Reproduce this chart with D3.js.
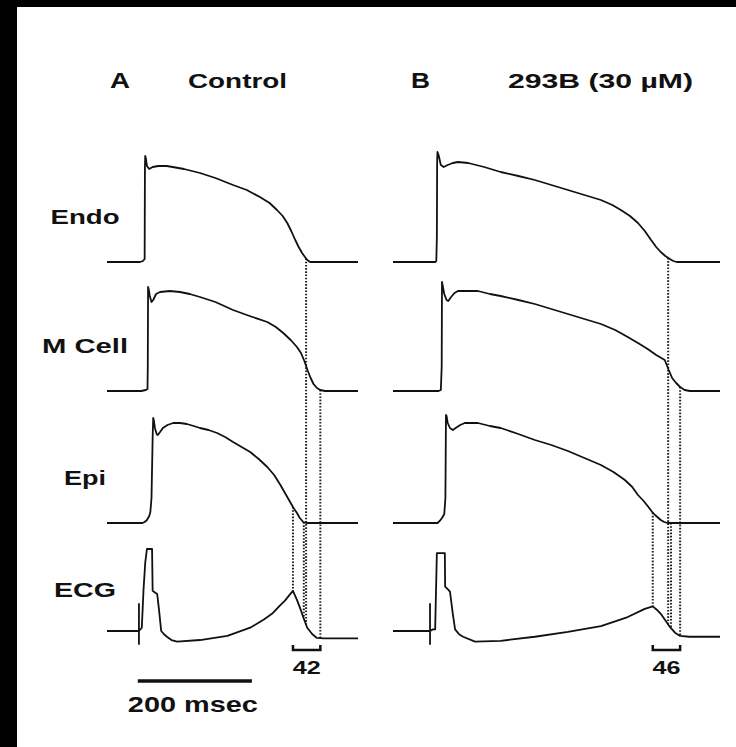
<!DOCTYPE html>
<html>
<head>
<meta charset="utf-8">
<script src="https://cdn.jsdelivr.net/npm/d3@7"></script>
<style>
  body { margin: 0; background: #000; }
  text { font-family: "Liberation Sans", Arial, sans-serif; font-weight: bold; fill: #111; }
</style>
</head>
<body>
<script>
// rows and panels
var rowNames = ["Endo", "M Cell", "Epi", "ECG"]
var panelLetters = ["A", "B"]
var conditions = ["Control", "293B (30 \u00b5M)"]

// action potentials: [time ms, membrane potential mV]
var endoA = [[0,-85],[58,-85],[63,-84],[66,-82],[66.5,10],[67,21],[68,19],[70,11],[74,8],[80,10],[90,11],[105,11],[135,8],[163,4],[190,-1],[221,-8],[245,-13],[268,-20],[285,-26],[298,-33],[308,-39],[316,-46],[323,-54],[330,-63],[336,-70],[342,-76],[347,-80],[351,-83],[356,-85],[440,-85]]
var mcellA = [[0,-85],[60,-85],[68,-84],[71,-83],[71.5,-60],[72,19],[73,17],[75,10],[78,4],[81,6],[86,12],[93,14],[110,15],[128,14],[145,12],[163,9],[190,4],[221,-4],[250,-10],[281,-16],[296,-21],[309,-27],[322,-34],[333,-41],[340,-47],[346,-55],[352,-65],[357,-72],[362,-78],[368,-82],[374,-84],[382,-85],[440,-85]]
var epiA = [[0,-85],[62,-85],[66,-84],[70,-82],[74,-78],[76,-74],[78,-60],[80,0],[81,20],[82,18],[84,10],[87,4],[89,3],[93,6],[98,10],[106,13],[116,15],[128,15],[140,14],[152,12],[163,10],[178,8],[193,5],[207,1],[221,-4],[236,-9],[251,-14],[266,-21],[281,-29],[293,-37],[304,-47],[313,-56],[321,-64],[327,-70],[333,-75],[338,-80],[344,-84],[350,-85],[440,-85]]
var endoB = [[0,-85],[74,-85],[76,-84],[77,-60],[77.5,15],[78,25],[80,22],[84,12],[89,10],[96,12],[105,14],[114,15],[132,14],[160,10],[189,5],[220,1],[249,-3],[278,-8],[307,-13],[336,-18],[365,-23],[385,-28],[400,-33],[416,-39],[430,-46],[442,-54],[453,-63],[462,-70],[470,-75],[478,-79],[486,-82],[492,-84],[498,-85],[574,-85]]
var mcellB = [[0,-85],[80,-85],[84,-84],[85.5,-60],[86,24],[87,21],[90,12],[94,6],[97,5],[102,9],[108,13],[114,15],[130,15],[149,15],[170,12],[189,10],[220,6],[249,2],[278,-3],[307,-8],[336,-13],[365,-18],[390,-24],[412,-31],[430,-37],[447,-43],[462,-49],[477,-54],[484,-64],[490,-72],[497,-77],[504,-81],[512,-84],[521,-85],[574,-85]]
var epiB = [[0,-85],[78,-85],[82,-83],[86,-80],[90,-76],[92,-60],[93,23],[94,22],[96,15],[100,10],[105,8],[110,10],[118,13],[126,15],[149,15],[170,12],[189,10],[220,4],[249,-2],[278,-7],[307,-13],[336,-20],[365,-27],[387,-34],[407,-42],[420,-49],[430,-57],[440,-63],[447,-68],[455,-74],[460,-77],[466,-80],[470,-82],[476,-84],[482,-85],[574,-85]]

// transmural ECG: [time ms, relative amplitude]
var ecgA = [[0,0],[56,0],[56,0.33],[56,-0.16],[56,0],[61,0.04],[64,0.5],[67,0.83],[70,1.0],[79,1.0],[80,0.49],[84,0.47],[88,0.45],[91,0.27],[95,0],[100,-0.04],[105,-0.07],[113,-0.11],[123,-0.13],[163,-0.11],[211,-0.06],[251,0.04],[275,0.14],[291,0.22],[303,0.31],[312,0.37],[320,0.44],[326,0.49],[333,0.38],[339,0.27],[345,0.15],[351,0.04],[360,-0.04],[368,-0.085],[380,-0.09],[440,-0.09]]
var ecgB = [[0,0],[65,0],[65,0.33],[65,-0.16],[65,0],[70,0.02],[74,0.02],[77,0.95],[91,0.95],[91.5,0.54],[96,0.51],[100,0.48],[105,0.21],[109,0.02],[116,-0.04],[123,-0.07],[144,-0.13],[189,-0.12],[249,-0.07],[307,-0.01],[365,0.06],[412,0.17],[442,0.27],[456,0.30],[463,0.26],[470,0.21],[478,0.13],[486,0.05],[495,-0.02],[504,-0.06],[520,-0.07],[574,-0.07]]

// dotted markers: row the line starts from and time (ms)
var markersA = [{row:"Epi", t:326},{row:"Endo", t:349},{row:"Epi", t:345},{row:"M Cell", t:374}]
var markersB = [{row:"Epi", t:456},{row:"Endo", t:483},{row:"Epi", t:488},{row:"M Cell", t:504}]
var dispersion = ["42", "46"]
var scaleBarMs = 200

var W = 736, H = 747
var svg = d3.select("body").append("svg").attr("width", W).attr("height", H)
svg.append("rect").attr("width", W).attr("height", H).attr("fill", "#000")
svg.append("rect").attr("x", 17).attr("y", 7).attr("width", W - 17).attr("height", H - 7).attr("fill", "#fff")

var rowY = d3.scaleOrdinal().domain(rowNames).range([262, 391, 523, 631])
var vScale = d3.scaleLinear().domain([-85, 25]).range([0, -110])
var ecgScale = d3.scaleLinear().domain([0, 1]).range([0, -82])
function yOf(row, v){
  return rowY(row) + (row === "ECG" ? ecgScale(v) : vScale(v))
}
function valueAt(trace, t){
  for (var i = 1; i < trace.length; i++){
    if (trace[i][0] >= t){
      var a = trace[i-1], b = trace[i]
      if (b[0] === a[0]) return b[1]
      return a[1] + (b[1] - a[1]) * (t - a[0]) / (b[0] - a[0])
    }
  }
  return trace[trace.length-1][1]
}

var panels = [
  {letter: panelLetters[0], title: conditions[0], x: d3.scaleLinear().domain([0, 440]).range([107, 358]),
   traces: {"Endo": endoA, "M Cell": mcellA, "Epi": epiA, "ECG": ecgA}, markers: markersA, label: dispersion[0],
   letterX: 110, letterW: 20, titleX: 188, titleW: 99},
  {letter: panelLetters[1], title: conditions[1], x: d3.scaleLinear().domain([0, 574]).range([393, 720]),
   traces: {"Endo": endoB, "M Cell": mcellB, "Epi": epiB, "ECG": ecgB}, markers: markersB, label: dispersion[1],
   letterX: 411, letterW: 19, titleX: 508, titleW: 185}
]

function addText(x, y, str, size, width, anchor){
  svg.append("text")
    .attr("x", x).attr("y", y)
    .attr("font-size", size)
    .attr("text-anchor", anchor || "start")
    .attr("textLength", width)
    .attr("lengthAdjust", "spacingAndGlyphs")
    .text(str)
}

// row labels
var labelW = {"Endo": 69, "M Cell": 86, "Epi": 42, "ECG": 62}
rowNames.forEach(function(r){
  addText(85, rowY(r) - (r === "ECG" ? 34 : 38), r, 21, labelW[r], "middle")
})

panels.forEach(function(p){
  addText(p.letterX, 88, p.letter, 22, p.letterW)
  addText(p.titleX, 88, p.title, 21, p.titleW)

  // dotted lines down to ECG
  svg.append("g").selectAll("line")
    .data(p.markers)
    .enter()
    .append("line")
    .attr("x1", function(d){ return p.x(d.t) })
    .attr("x2", function(d){ return p.x(d.t) })
    .attr("y1", function(d){ return yOf(d.row, valueAt(p.traces[d.row], d.t)) })
    .attr("y2", function(d){ return yOf("ECG", valueAt(p.traces["ECG"], d.t)) })
    .attr("stroke", "#222")
    .attr("stroke-width", 2)
    .attr("stroke-dasharray", "1.6,1.6")

  rowNames.forEach(function(r){
    var line = d3.line()
      .x(function(d){ return p.x(d[0]) })
      .y(function(d){ return yOf(r, d[1]) })
    svg.append("path")
      .datum(p.traces[r])
      .attr("d", line)
      .attr("fill", "none")
      .attr("stroke", "#111")
      .attr("stroke-width", 1.8)
      .attr("stroke-linejoin", "round")
  })

  // dispersion bracket
  var t0 = d3.min(p.markers, function(d){ return d.t })
  var t1 = d3.max(p.markers, function(d){ return d.t })
  var by = rowY("ECG") + 19
  svg.append("path")
    .attr("d", "M" + p.x(t0) + "," + (by - 5) + "V" + by + "H" + p.x(t1) + "V" + (by - 5))
    .attr("fill", "none")
    .attr("stroke", "#111")
    .attr("stroke-width", 2.5)
  addText((p.x(t0) + p.x(t1)) / 2, by + 24, p.label, 18, 28, "middle")
})

// time scale bar
var xa = panels[0].x
svg.append("line")
  .attr("x1", xa(54)).attr("x2", xa(54 + scaleBarMs))
  .attr("y1", rowY("ECG") + 50).attr("y2", rowY("ECG") + 50)
  .attr("stroke", "#111").attr("stroke-width", 3.5)
addText((xa(54) + xa(54 + scaleBarMs)) / 2 - 2, rowY("ECG") + 81, scaleBarMs + " msec", 22, 130, "middle")
</script>
</body>
</html>
